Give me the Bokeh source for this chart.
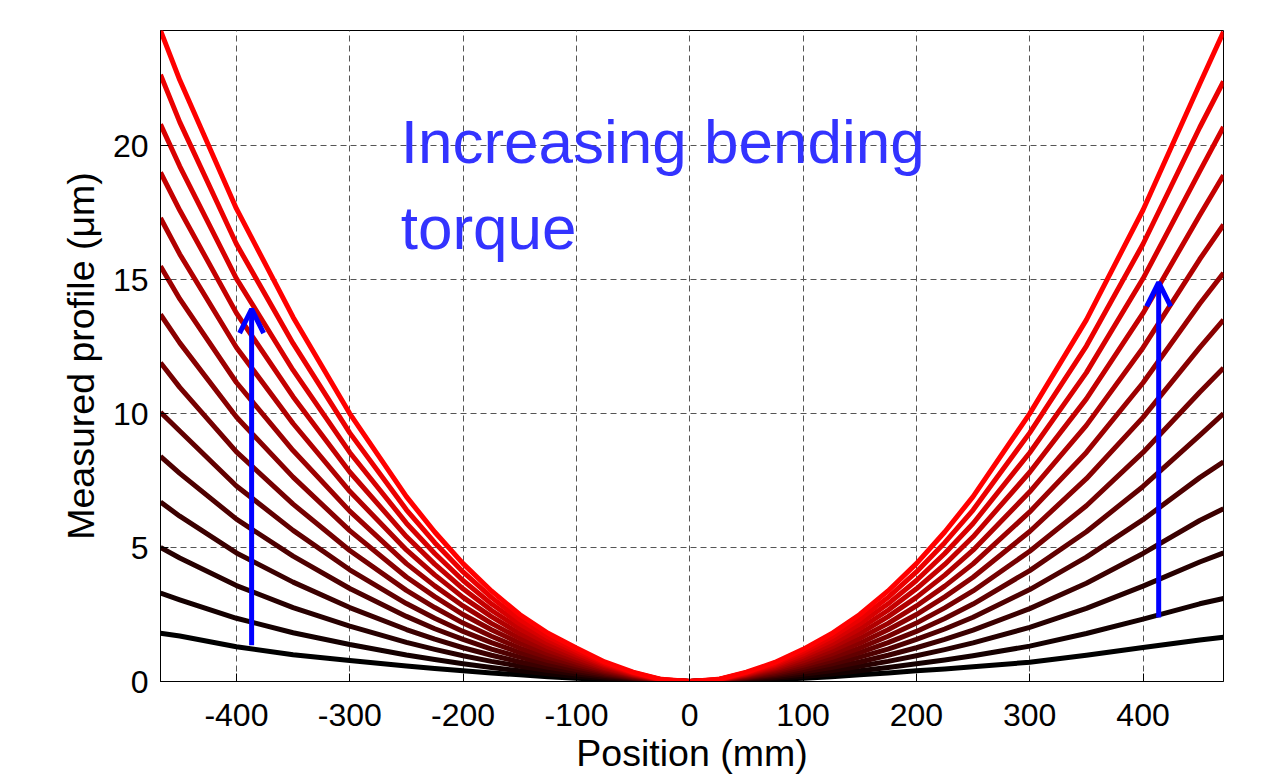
from bokeh.plotting import figure
from bokeh.models import Range1d, Label, Arrow, OpenHead, FixedTicker
from bokeh.embed import file_html
from bokeh.resources import INLINE

# ---- data ----
x_mm = [-467, -450, -400, -350, -300, -250, -225, -200, -175, -150, -125, -100, -75, -50, -25, 0,
        25, 50, 75, 100, 125, 150, 175, 200, 225, 250, 300, 350, 400, 450, 471]

curve_01 = [1.8, 1.7, 1.3, 1.0, 0.78, 0.58, 0.485, 0.4, 0.32, 0.25, 0.18, 0.12, 0.075, 0.04, 0.01, 0.0, 0.01, 0.04, 0.075, 0.12, 0.18, 0.25, 0.32, 0.4, 0.47, 0.55, 0.72, 0.98, 1.27, 1.55, 1.65]
curve_02 = [3.3, 3.05, 2.36, 1.82, 1.38, 0.99, 0.82, 0.66, 0.52, 0.40, 0.29, 0.19, 0.12, 0.06, 0.01, 0.0, 0.01, 0.06, 0.12, 0.19, 0.28, 0.40, 0.52, 0.66, 0.80, 0.96, 1.32, 1.79, 2.33, 2.90, 3.1]
curve_03 = [5.0, 4.61, 3.58, 2.76, 2.07, 1.46, 1.20, 0.96, 0.75, 0.57, 0.41, 0.28, 0.17, 0.08, 0.02, 0.0, 0.02, 0.08, 0.16, 0.27, 0.40, 0.57, 0.75, 0.96, 1.19, 1.44, 2.02, 2.73, 3.56, 4.46, 4.8]
curve_04 = [6.7, 6.17, 4.80, 3.71, 2.76, 1.94, 1.58, 1.26, 0.98, 0.73, 0.53, 0.36, 0.22, 0.11, 0.02, 0.0, 0.02, 0.11, 0.21, 0.35, 0.52, 0.73, 0.98, 1.26, 1.57, 1.92, 2.72, 3.67, 4.78, 6.01, 6.45]
curve_05 = [8.4, 7.77, 6.06, 4.68, 3.47, 2.43, 1.97, 1.57, 1.21, 0.91, 0.65, 0.45, 0.27, 0.13, 0.03, 0.0, 0.03, 0.13, 0.26, 0.44, 0.65, 0.91, 1.21, 1.57, 1.96, 2.40, 3.43, 4.64, 6.04, 7.61, 8.2]
curve_06 = [10.05, 9.35, 7.30, 5.64, 4.17, 2.91, 2.36, 1.87, 1.45, 1.08, 0.78, 0.54, 0.32, 0.15, 0.03, 0.0, 0.03, 0.15, 0.31, 0.52, 0.77, 1.08, 1.45, 1.87, 2.35, 2.89, 4.14, 5.59, 7.28, 9.19, 10.0]
curve_07 = [11.9, 10.98, 8.57, 6.62, 4.89, 3.40, 2.76, 2.18, 1.69, 1.25, 0.90, 0.62, 0.37, 0.18, 0.04, 0.0, 0.04, 0.18, 0.36, 0.60, 0.89, 1.25, 1.69, 2.18, 2.75, 3.38, 4.86, 6.56, 8.55, 10.80, 11.7]
curve_08 = [13.7, 12.64, 9.87, 7.63, 5.63, 3.90, 3.17, 2.50, 1.93, 1.43, 1.03, 0.71, 0.42, 0.20, 0.04, 0.0, 0.04, 0.20, 0.41, 0.69, 1.02, 1.43, 1.93, 2.50, 3.16, 3.89, 5.60, 7.57, 9.86, 12.46, 13.5]
curve_09 = [15.5, 14.28, 11.16, 8.62, 6.36, 4.40, 3.57, 2.82, 2.17, 1.61, 1.16, 0.80, 0.47, 0.23, 0.05, 0.0, 0.05, 0.23, 0.46, 0.77, 1.15, 1.61, 2.17, 2.82, 3.56, 4.39, 6.33, 8.55, 11.15, 14.10, 15.25]
curve_10 = [17.3, 15.95, 12.47, 9.63, 7.10, 4.91, 3.98, 3.14, 2.42, 1.79, 1.29, 0.89, 0.52, 0.25, 0.05, 0.0, 0.05, 0.25, 0.51, 0.86, 1.28, 1.79, 2.42, 3.14, 3.97, 4.90, 7.08, 9.56, 12.46, 15.76, 17.05]
curve_11 = [19.0, 17.59, 13.75, 10.63, 7.82, 5.41, 4.38, 3.46, 2.66, 1.97, 1.42, 0.98, 0.58, 0.28, 0.06, 0.0, 0.06, 0.28, 0.56, 0.95, 1.40, 1.97, 2.66, 3.46, 4.37, 5.40, 7.81, 10.55, 13.75, 17.40, 18.9]
curve_12 = [20.8, 19.23, 15.04, 11.62, 8.55, 5.91, 4.78, 3.77, 2.90, 2.15, 1.55, 1.07, 0.63, 0.30, 0.07, 0.0, 0.07, 0.30, 0.61, 1.03, 1.53, 2.15, 2.90, 3.77, 4.78, 5.90, 8.54, 11.53, 15.04, 19.04, 20.7]
curve_13 = [22.65, 20.88, 16.33, 12.62, 9.28, 6.41, 5.18, 4.09, 3.14, 2.32, 1.67, 1.16, 0.68, 0.33, 0.07, 0.0, 0.07, 0.33, 0.66, 1.12, 1.66, 2.32, 3.14, 4.09, 5.18, 6.40, 9.28, 12.52, 16.33, 20.68, 22.4]
curve_14 = [24.3, 22.45, 17.65, 13.6, 10.0, 6.9, 5.58, 4.4, 3.38, 2.5, 1.80, 1.25, 0.73, 0.35, 0.08, 0.0, 0.08, 0.35, 0.71, 1.2, 1.78, 2.5, 3.38, 4.4, 5.58, 6.9, 10.0, 13.5, 17.6, 22.3, 24.25]

x_ticks = [-400, -300, -200, -100, 0, 100, 200, 300, 400]
y_ticks = [0, 5, 10, 15, 20]

curves = [curve_01, curve_02, curve_03, curve_04, curve_05, curve_06, curve_07,
          curve_08, curve_09, curve_10, curve_11, curve_12, curve_13, curve_14]

FONT = "Liberation Sans"

p = figure(frame_width=1063, frame_height=651,
           x_range=Range1d(-467, 471), y_range=Range1d(0, 24.3),
           output_backend="svg", toolbar_location=None,
           min_border_left=160, min_border_right=34,
           min_border_top=30, min_border_bottom=92)

p.background_fill_color = "white"
p.border_fill_color = "white"
p.outline_line_color = "black"
p.outline_line_width = 1
p.outline_line_alpha = 1

n = len(curves)
for i, c in enumerate(curves):
    r = int(round(255 * i / (n - 1)))
    p.line(x_mm, c, line_color=(r, 0, 0), line_width=5, line_join="round")

# axes
p.xaxis.ticker = FixedTicker(ticks=x_ticks)
p.yaxis.ticker = FixedTicker(ticks=y_ticks)
p.xaxis.major_label_overrides = {t: str(t) for t in x_ticks}
for ax in (p.xaxis[0], p.yaxis[0]):
    ax.major_tick_in = 8
    ax.major_tick_out = 0
    ax.minor_tick_line_color = None
    ax.axis_line_color = "black"
    ax.major_tick_line_color = "black"
    ax.major_label_text_font = FONT
    ax.major_label_text_font_size = "32px"
    ax.major_label_text_color = "black"
    ax.axis_label_text_font = FONT
    ax.axis_label_text_font_size = "37.5px"
    ax.axis_label_text_font_style = "normal"
    ax.axis_label_text_color = "black"

p.xaxis.axis_label = "Position (mm)"
p.yaxis.axis_label = "Measured profile (\u03bcm)"
p.xaxis.major_label_standoff = 22
p.xaxis.axis_label_standoff = 3
p.yaxis.major_label_standoff = 12
p.yaxis.axis_label_standoff = 8

# grid
for g in (p.xgrid[0], p.ygrid[0]):
    g.grid_line_color = "#555555"
    g.grid_line_dash = "6 4"
    g.grid_line_width = 1
    g.grid_line_alpha = 1
p.xgrid.ticker = FixedTicker(ticks=x_ticks)
p.ygrid.ticker = FixedTicker(ticks=y_ticks)

# annotations
arrow_left = dict(x=-386.6, y0=1.35, y1=13.9)
arrow_right = dict(x=413.8, y0=2.39, y1=14.9)
for a in (arrow_left, arrow_right):
    p.add_layout(Arrow(end=OpenHead(size=24, line_color="#0000ff", line_width=5),
                       x_start=a["x"], y_start=a["y0"], x_end=a["x"], y_end=a["y1"],
                       line_color="#0000ff", line_width=5))

p.add_layout(Label(x=-255, y=20.16, text="Increasing bending",
                   text_font=FONT, text_font_size="62px",
                   text_color="#3333ff", text_baseline="alphabetic"))
p.add_layout(Label(x=-255, y=16.95, text="torque",
                   text_font=FONT, text_font_size="62px",
                   text_color="#3333ff", text_baseline="alphabetic"))

open("out.html", "w").write(file_html(p, INLINE))
